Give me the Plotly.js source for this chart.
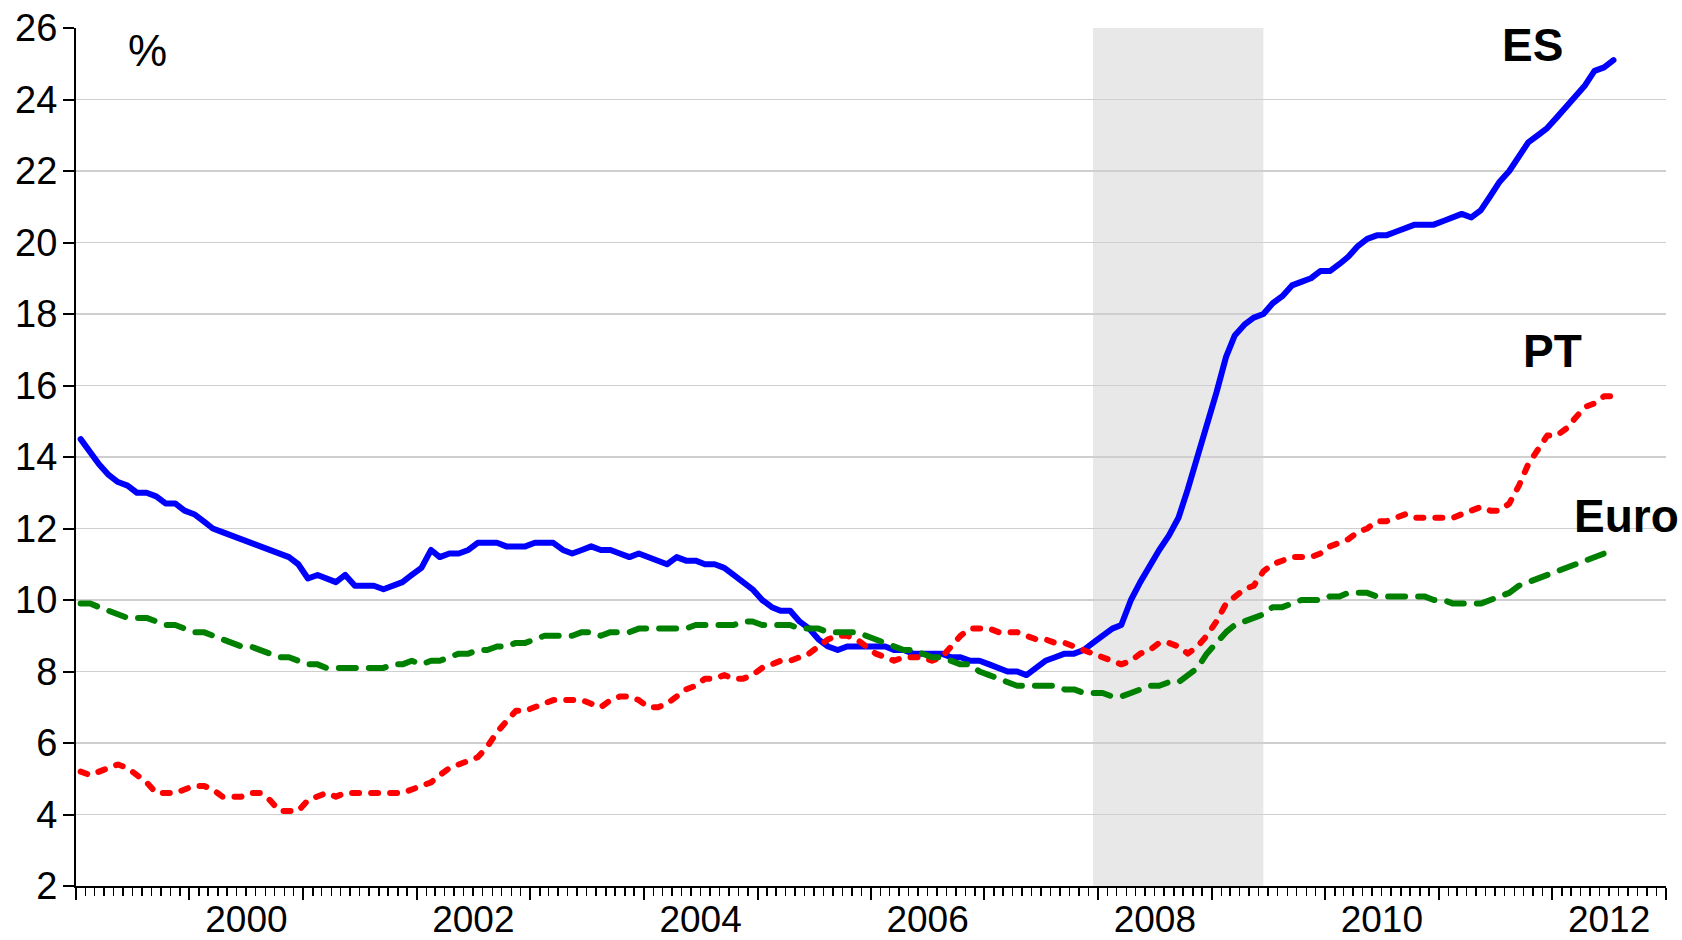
<!DOCTYPE html>
<html>
<head>
<meta charset="utf-8">
<script src="https://cdn.plot.ly/plotly-3.0.1.min.js"></script>
<style>
  html, body { margin: 0; padding: 0; background: #ffffff; }
  #chart { width: 1682px; height: 940px; }
  #chart .scatterlayer .js-line { stroke-linecap: round; stroke-linejoin: round; }
</style>
</head>
<body>
<div id="chart"></div>
<script>
// Monthly unemployment rates, Jan 1999 - Jul 2012 (%)
const startYear = 1999;
const seriesNames = ["ES", "PT", "Euro"];

const esValues = [
  14.5, 14.1, 13.8, 13.5, 13.3, 13.2, 13.0, 13.0, 12.9, 12.7, 12.7, 12.5,
  12.4, 12.2, 12.0, 11.9, 11.8, 11.7, 11.6, 11.5, 11.4, 11.3, 11.2, 11.0,
  10.6, 10.7, 10.6, 10.5, 10.7, 10.4, 10.4, 10.4, 10.3, 10.4, 10.5, 10.7,
  10.9, 11.4, 11.2, 11.3, 11.3, 11.4, 11.6, 11.6, 11.6, 11.5, 11.5, 11.5,
  11.6, 11.6, 11.6, 11.4, 11.3, 11.4, 11.5, 11.4, 11.4, 11.3, 11.2, 11.3,
  11.2, 11.1, 11.0, 11.2, 11.1, 11.1, 11.0, 11.0, 10.9, 10.7, 10.5, 10.3,
  10.0, 9.8, 9.7, 9.7, 9.4, 9.2, 8.9, 8.7, 8.6, 8.7, 8.7, 8.7,
  8.7, 8.7, 8.6, 8.6, 8.5, 8.5, 8.5, 8.5, 8.4, 8.4, 8.3, 8.3,
  8.2, 8.1, 8.0, 8.0, 7.9, 8.1, 8.3, 8.4, 8.5, 8.5, 8.6, 8.8,
  9.0, 9.2, 9.3, 10.0, 10.5, 11.0, 11.4, 11.8, 12.3, 13.1, 14.0, 14.8,
  15.8, 16.8, 17.4, 17.7, 17.9, 18.0, 18.3, 18.5, 18.8, 18.9, 19.0, 19.2,
  19.2, 19.4, 19.6, 19.9, 20.1, 20.2, 20.2, 20.3, 20.4, 20.5, 20.5, 20.5,
  20.6, 20.7, 20.8, 20.7, 20.9, 21.3, 21.7, 22.0, 22.4, 22.8, 23.0, 23.2,
  23.5, 23.8, 24.1, 24.4, 24.8, 24.9, 25.1
];

const ptValues = [
  5.2, 5.1, 5.2, 5.3, 5.4, 5.3, 5.1, 4.9, 4.6, 4.6, 4.6, 4.7,
  4.8, 4.8, 4.7, 4.5, 4.5, 4.5, 4.6, 4.6, 4.4, 4.1, 4.1, 4.1,
  4.4, 4.5, 4.6, 4.5, 4.6, 4.6, 4.6, 4.6, 4.6, 4.6, 4.6, 4.7,
  4.8, 4.9, 5.1, 5.3, 5.4, 5.5, 5.6, 5.9, 6.3, 6.6, 6.9, 6.9,
  7.0, 7.1, 7.2, 7.2, 7.2, 7.2, 7.1, 7.0, 7.2, 7.3, 7.3, 7.2,
  7.0, 7.0, 7.1, 7.3, 7.5, 7.6, 7.8, 7.8, 7.9, 7.8, 7.8, 7.9,
  8.1, 8.2, 8.3, 8.3, 8.4, 8.5, 8.7, 8.9, 9.0, 9.0, 8.9, 8.7,
  8.5, 8.4, 8.3, 8.4, 8.4, 8.4, 8.3, 8.4, 8.7, 9.0, 9.2, 9.2,
  9.2, 9.1, 9.1, 9.1, 9.0, 8.9, 8.9, 8.8, 8.8, 8.7, 8.6, 8.5,
  8.4, 8.3, 8.2, 8.3, 8.5, 8.6, 8.8, 8.8, 8.7, 8.5, 8.7, 9.0,
  9.4, 9.9, 10.1, 10.3, 10.4, 10.8, 11.0, 11.1, 11.2, 11.2, 11.2, 11.3,
  11.5, 11.6, 11.7, 11.9, 12.0, 12.2, 12.2, 12.3, 12.4, 12.3, 12.3, 12.3,
  12.3, 12.3, 12.4, 12.5, 12.6, 12.5, 12.5, 12.7, 13.2, 13.8, 14.2, 14.6,
  14.6, 14.8, 15.1, 15.4, 15.5, 15.7, 15.7
];

const euroValues = [
  9.9, 9.9, 9.8, 9.7, 9.6, 9.5, 9.5, 9.5, 9.4, 9.3, 9.3, 9.2,
  9.1, 9.1, 9.0, 8.9, 8.8, 8.7, 8.7, 8.6, 8.5, 8.4, 8.4, 8.3,
  8.2, 8.2, 8.1, 8.1, 8.1, 8.1, 8.1, 8.1, 8.1, 8.2, 8.2, 8.3,
  8.2, 8.3, 8.3, 8.4, 8.5, 8.5, 8.6, 8.6, 8.7, 8.7, 8.8, 8.8,
  8.9, 9.0, 9.0, 9.0, 9.0, 9.1, 9.1, 9.0, 9.1, 9.1, 9.1, 9.2,
  9.2, 9.2, 9.2, 9.2, 9.2, 9.3, 9.3, 9.3, 9.3, 9.3, 9.4, 9.4,
  9.3, 9.3, 9.3, 9.3, 9.2, 9.2, 9.2, 9.1, 9.1, 9.1, 9.1, 9.0,
  8.9, 8.8, 8.7, 8.6, 8.6, 8.5, 8.4, 8.4, 8.3, 8.2, 8.2, 8.0,
  7.9, 7.8, 7.7, 7.6, 7.6, 7.6, 7.6, 7.6, 7.5, 7.5, 7.4, 7.4,
  7.4, 7.3, 7.3, 7.4, 7.5, 7.6, 7.6, 7.7, 7.7, 7.9, 8.1, 8.5,
  8.8, 9.1, 9.3, 9.4, 9.5, 9.6, 9.8, 9.8, 9.9, 10.0, 10.0, 10.0,
  10.1, 10.1, 10.2, 10.2, 10.2, 10.1, 10.1, 10.1, 10.1, 10.1, 10.1, 10.0,
  10.0, 9.9, 9.9, 9.9, 9.9, 10.0, 10.1, 10.2, 10.4, 10.5, 10.6, 10.7,
  10.8, 10.9, 11.0, 11.1, 11.2, 11.3, 11.3
];

// Recession shading (observation months)
const recessionPeriod = ["2007-12-16", "2009-06-16"];

// Axis ticks and labels
const yTickValues = [2, 4, 6, 8, 10, 12, 14, 16, 18, 20, 22, 24, 26];
const yGridValues = [4, 6, 8, 10, 12, 14, 16, 18, 20, 22, 24];
const xLabelYears = ["2000", "2002", "2004", "2006", "2008", "2010", "2012"];
const xRange = ["1999-01-01", "2013-01-01"];

// Build monthly dates (observations plotted mid-month)
function monthDates(n) {
  const out = [];
  for (let i = 0; i < n; i++) {
    const y = startYear + Math.floor(i / 12);
    const m = (i % 12) + 1;
    out.push(y + "-" + (m < 10 ? "0" + m : m) + "-16");
  }
  return out;
}
const dates = monthDates(esValues.length);

const FONT = "Liberation Sans, Arial, sans-serif";

const traces = [
  { x: dates, y: esValues, name: seriesNames[0], type: "scatter", mode: "lines",
    xaxis: "x", yaxis: "y",
    line: { color: "#0000FF", width: 6 } },
  { x: dates, y: ptValues, name: seriesNames[1], type: "scatter", mode: "lines",
    xaxis: "x", yaxis: "y",
    line: { color: "#FF0000", width: 6, dash: "7px,12px" } },
  { x: dates, y: euroValues, name: seriesNames[2], type: "scatter", mode: "lines",
    xaxis: "x2", yaxis: "y2",
    line: { color: "#008000", width: 6, dash: "17px,13px" } }
];

const layout = {
  width: 1682, height: 940,
  margin: { l: 76, r: 16, t: 28, b: 54, pad: 0 },
  paper_bgcolor: "#ffffff", plot_bgcolor: "#ffffff",
  showlegend: false,
  font: { family: FONT, color: "#000000", size: 37 },
  xaxis: {
    type: "date", range: xRange, fixedrange: true,
    tickmode: "linear", tick0: "1999-01-01", dtick: "M12",
    ticks: "outside", ticklen: 12, tickwidth: 2, tickcolor: "#000000",
    showticklabels: false, showgrid: false, zeroline: false,
    showline: true, linecolor: "#000000", linewidth: 2,
    minor: { tick0: "1999-01-01", dtick: "M1", ticks: "outside", ticklen: 8,
             tickwidth: 1.5, tickcolor: "#000000", showgrid: false }
  },
  xaxis2: {
    type: "date", range: xRange, fixedrange: true,
    overlaying: "x", anchor: "y2", side: "bottom",
    tickmode: "array",
    tickvals: xLabelYears.map(function (y) { return y + "-07-02"; }),
    ticktext: xLabelYears,
    ticks: "", showgrid: false, zeroline: false, showline: false,
    ticklabelstandoff: 8,
    tickfont: { family: FONT, size: 37, color: "#000000" }
  },
  yaxis: {
    range: [2, 26], fixedrange: true,
    tickmode: "array", tickvals: yTickValues,
    ticks: "outside", ticklen: 11, tickwidth: 2, tickcolor: "#000000",
    showgrid: false, zeroline: false,
    showline: true, linecolor: "#000000", linewidth: 2,
    ticklabelstandoff: -2,
    tickfont: { family: FONT, size: 38, color: "#000000" }
  },
  yaxis2: {
    range: [2, 26], fixedrange: true,
    overlaying: "y", anchor: "x2", side: "left",
    tickmode: "array", tickvals: yGridValues,
    ticks: "", showticklabels: false,
    showgrid: true, gridcolor: "#CFCFCF", gridwidth: 1.5,
    zeroline: false, showline: false
  },
  shapes: [{
    type: "rect", xref: "x", yref: "paper",
    x0: recessionPeriod[0], x1: recessionPeriod[1], y0: 0, y1: 1,
    fillcolor: "#E8E8E8", line: { width: 0 }, layer: "below"
  }],
  annotations: [
    { text: "%", xref: "paper", yref: "paper", x: 0.0449, y: 0.974,
      xanchor: "center", yanchor: "middle", showarrow: false,
      font: { family: FONT, size: 44, color: "#000000" } },
    { text: "<b>" + seriesNames[0] + "</b>", xref: "paper", yref: "paper", x: 0.9158, y: 0.980,
      xanchor: "center", yanchor: "middle", showarrow: false,
      font: { family: FONT, size: 46, color: "#000000" } },
    { text: "<b>" + seriesNames[1] + "</b>", xref: "paper", yref: "paper", x: 0.9284, y: 0.623,
      xanchor: "center", yanchor: "middle", showarrow: false,
      font: { family: FONT, size: 46, color: "#000000" } },
    { text: "<b>" + seriesNames[2] + "</b>", xref: "paper", yref: "paper", x: 0.9749, y: 0.4317,
      xanchor: "center", yanchor: "middle", showarrow: false,
      font: { family: FONT, size: 46, color: "#000000" } }
  ]
};

Plotly.newPlot("chart", traces, layout, { displayModeBar: false, staticPlot: true });
</script>
</body>
</html>
